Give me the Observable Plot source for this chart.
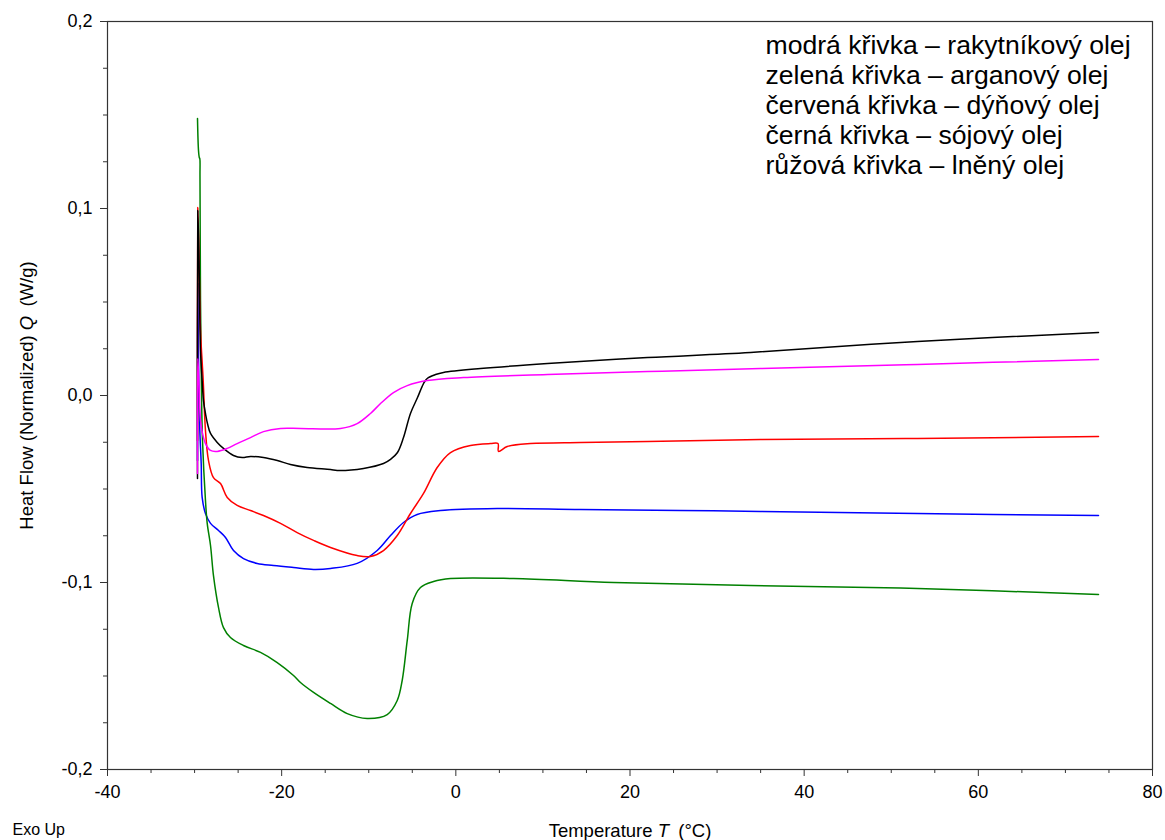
<!DOCTYPE html>
<html>
<head>
<meta charset="utf-8">
<script src="https://cdn.jsdelivr.net/npm/d3@7"></script>
<script src="https://cdn.jsdelivr.net/npm/@observablehq/plot@0.6"></script>
<style>
  html, body { margin: 0; padding: 0; background: #fff; }
  svg { display: block; }
</style>
</head>
<body>
<div id="chart"></div>
<script>
// DSC heat-flow curves of five vegetable oils (temperature in °C, heat flow in W/g)

const blueT = [-29.665, -29.63, -29.52, -29.40, -29.24, -29.13, -28.75, -28.17, -27.25, -26.45, -25.53, -24.38, -22.81, -20.94, -18.64, -16.34, -14.39, -11.33, -9.03, -7.50, -6.01, -4.44, -1.76, 4.75, 14.32, 25.80, 34.99, 53.01, 73.80];
const blueQ = [-0.0348, 0.0599, 0.0080, -0.0187, -0.0364, -0.0545, -0.0631, -0.0684, -0.0722, -0.0759, -0.0829, -0.0872, -0.0898, -0.0909, -0.0920, -0.0930, -0.0925, -0.0898, -0.0829, -0.0749, -0.0679, -0.0636, -0.0615, -0.0604, -0.0610, -0.0615, -0.0620, -0.0631, -0.0642];

const greenT = [-29.665, -29.55, -29.46, -29.40, -29.38, -29.32, -29.21, -29.09, -28.75, -28.55, -28.17, -27.83, -27.25, -26.68, -25.88, -24.38, -22.43, -20.51, -18.64, -17.84, -16.34, -14.39, -12.47, -10.18, -7.88, -6.73, -6.16, -5.58, -5.01, -4.06, -2.56, -0.61, 6.62, 18.11, 33.84, 53.01, 73.80];
const greenQ = [0.1481, 0.1310, 0.1273, 0.1267, 0.1176, 0.0508, 0.0027, -0.0241, -0.0561, -0.0684, -0.0802, -0.0963, -0.1134, -0.1241, -0.1294, -0.1337, -0.1374, -0.1428, -0.1497, -0.1535, -0.1588, -0.1647, -0.1701, -0.1727, -0.1706, -0.1631, -0.1524, -0.1310, -0.1112, -0.1027, -0.0995, -0.0979, -0.0979, -0.1000, -0.1016, -0.1032, -0.1064];

const redT = [-29.665, -29.63, -29.49, -29.32, -29.01, -28.75, -28.40, -27.83, -27.02, -26.25, -25.11, -23.58, -22.09, -20.13, -18.22, -16.34, -14.39, -11.33, -9.80, -8.31, -6.73, -5.21, -3.71, -2.14, -0.61, 1.68, 3.98, 4.84, 4.90, 5.90, 8.57, 14.32, 22.01, 34.99, 53.01, 73.80];
const redQ = [-0.0241, 0.1005, 0.0722, 0.0348, 0.0080, -0.0187, -0.0348, -0.0439, -0.0471, -0.0545, -0.0588, -0.0615, -0.0642, -0.0684, -0.0733, -0.0775, -0.0813, -0.0856, -0.0861, -0.0829, -0.0749, -0.0631, -0.0524, -0.0385, -0.0305, -0.0267, -0.0257, -0.0257, -0.0299, -0.0273, -0.0257, -0.0251, -0.0246, -0.0235, -0.0230, -0.0219];

const blackT = [-29.665, -29.63, -29.49, -29.32, -29.13, -28.98, -28.75, -28.52, -28.17, -27.40, -26.68, -25.53, -24.53, -23.58, -22.09, -20.50, -18.99, -17.07, -14.39, -13.62, -10.60, -8.31, -7.50, -6.70, -6.01, -5.21, -4.40, -3.71, -3.29, -2.33, -1.42, 2.83, 10.53, 22.01, 33.84, 53.01, 73.80];
const blackQ = [-0.0444, 0.0989, 0.0722, 0.0241, 0.0080, -0.0027, -0.0096, -0.0150, -0.0203, -0.0251, -0.0283, -0.0321, -0.0332, -0.0326, -0.0332, -0.0348, -0.0369, -0.0385, -0.0396, -0.0401, -0.0390, -0.0364, -0.0342, -0.0305, -0.0225, -0.0096, -0.0011, 0.0064, 0.0091, 0.0112, 0.0123, 0.0144, 0.0171, 0.0203, 0.0230, 0.0289, 0.0337];

const pinkT = [-29.665, -29.63, -29.49, -29.32, -29.09, -28.75, -28.17, -27.40, -26.25, -25.11, -23.58, -22.09, -20.13, -17.84, -13.24, -11.33, -9.80, -8.65, -7.16, -5.58, -3.29, 0.88, 10.53, 22.01, 34.99, 53.01, 73.80];
const pinkQ = [-0.0417, 0.0198, 0.0053, -0.0134, -0.0203, -0.0257, -0.0294, -0.0299, -0.0283, -0.0257, -0.0225, -0.0193, -0.0176, -0.0176, -0.0176, -0.0150, -0.0096, -0.0043, 0.0016, 0.0053, 0.0080, 0.0096, 0.0112, 0.0128, 0.0144, 0.0166, 0.0193];

const seriesNames = ["rakytníkový olej", "arganový olej", "dýňový olej", "sójový olej", "lněný olej"];
const seriesColors = ["#0000ff", "#008000", "#ff0000", "#000000", "#ff00ff"];

const xTicks = [-40, -20, 0, 20, 40, 60, 80];
const xMinorTicks = [-35, -30, -25, -15, -10, -5, 5, 10, 15, 25, 30, 35, 45, 50, 55, 65, 70, 75];
const yTicks = [-0.2, -0.1, 0, 0.1, 0.2];
const yMinorTicks = [-0.175, -0.15, -0.125, -0.075, -0.05, -0.025, 0.025, 0.05, 0.075, 0.125, 0.15, 0.175];

const legendLines = [
  "modrá křivka – rakytníkový olej",
  "zelená křivka – arganový olej",
  "červená křivka – dýňový olej",
  "černá křivka – sójový olej",
  "růžová křivka – lněný olej"
];
const yLabelParts = ["Heat Flow (Normalized) ", "Q", "\u2002(W/g)"];
const xLabelParts = ["Temperature ", "T", "\u2002(°C)"];
const cornerNote = "Exo Up";

// Long-format table: one row per sample point
const curves = [
  [blueT, blueQ], [greenT, greenQ], [redT, redQ], [blackT, blackQ], [pinkT, pinkQ]
];
const rows = curves.flatMap(([T, Q], i) =>
  T.map((t, j) => ({oil: seriesNames[i], T: t, Q: Q[j]}))
);

const commaFmt = d => (Math.abs(d) < 1e-9 ? 0 : d).toFixed(1).replace(".", ",");
const font = "'Liberation Sans', Arial, Helvetica, sans-serif";

const svg = Plot.plot({
  width: 1165,
  height: 840,
  marginLeft: 107,
  marginRight: 13,
  marginTop: 21,
  marginBottom: 71,
  style: {fontFamily: font, background: "#fff", color: "#000"},
  x: {domain: [-40, 80]},
  y: {domain: [-0.2, 0.2]},
  color: {domain: seriesNames, range: seriesColors},
  marks: [
    Plot.frame({stroke: "#333", strokeWidth: 1.2}),
    Plot.axisX(xTicks, {tickSize: 7, tickPadding: 9, fontSize: 18, stroke: "#333", tickFormat: d => String(d), label: null}),
    Plot.axisX(xMinorTicks, {tickSize: 4, tickFormat: () => "", stroke: "#333", label: null}),
    Plot.axisY(yTicks, {tickSize: 7, tickPadding: 8, fontSize: 18, stroke: "#333", tickFormat: commaFmt, label: null}),
    Plot.axisY(yMinorTicks, {tickSize: 4, tickFormat: () => "", stroke: "#333", label: null}),
    Plot.line(rows, {x: "T", y: "Q", z: "oil", stroke: "oil", strokeWidth: 1.5, curve: "catmull-rom"}),
    Plot.text([legendLines.join("\n")], {
      frameAnchor: "top-left", dx: 658, dy: 11.5, textAnchor: "start", lineAnchor: "top",
      fontSize: 26.6, lineHeight: 30 / 26.6, fill: "#000"
    }),
    Plot.text([yLabelParts.join("")], {
      frameAnchor: "left", dx: -80, rotate: -90, textAnchor: "middle", lineAnchor: "middle",
      fontSize: 18.5, fill: "#000"
    }),
    Plot.text([xLabelParts.join("")], {
      frameAnchor: "bottom", dy: 62, textAnchor: "middle", lineAnchor: "middle",
      fontSize: 18.5, fill: "#000"
    }),
    Plot.text([cornerNote], {
      frameAnchor: "bottom-left", dx: -95, dy: 60, textAnchor: "start", lineAnchor: "middle",
      fontSize: 16, fill: "#000"
    })
  ]
});

// Italicise the quantity symbols inside the axis titles
function richText(parts) {
  const full = parts.join("");
  d3.select(svg).selectAll("text").each(function () {
    if (this.textContent === full) {
      const sel = d3.select(this);
      sel.text(null);
      parts.forEach((p, i) => {
        sel.append("tspan").attr("font-style", i === 1 ? "italic" : null).text(p);
      });
    }
  });
}
richText(yLabelParts);
richText(xLabelParts);

document.getElementById("chart").appendChild(svg);
</script>
</body>
</html>
